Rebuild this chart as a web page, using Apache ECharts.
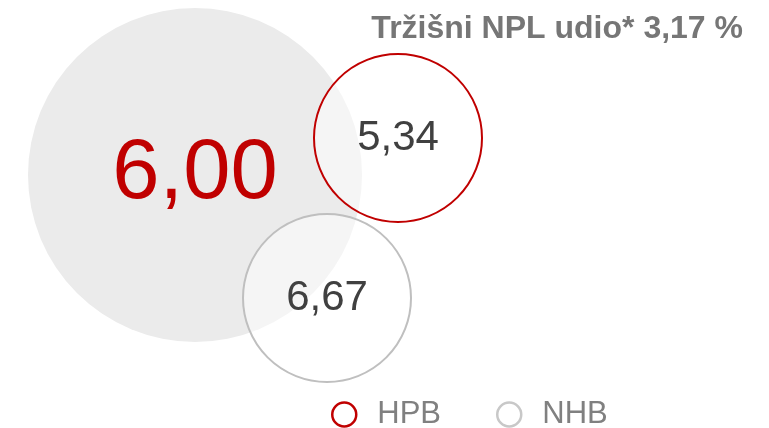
<!DOCTYPE html>
<html>
<head>
<meta charset="utf-8">
<script src="https://cdn.jsdelivr.net/npm/echarts@6/dist/echarts.min.js"></script>
<style>
  html, body { margin: 0; padding: 0; background: #fff; }
  #chart { width: 769px; height: 428px; }
</style>
</head>
<body>
<div id="chart"></div>
<script>
// NPL omjeri (%)
const bubbleNames = ['Tržište', 'HPB', 'NHB']
const bubbleValues = [6.00, 5.34, 6.67]
const titleText = 'Tržišni NPL udio* 3,17 %'

// raspored mjehurića (koordinate na skrivenim osima) i promjeri
const layoutX = [195, 398, 327]
const layoutY = [175, 138, 298]
const diameters = [334, 168, 168]

const FONT = '"Liberation Sans", Arial, sans-serif'
const fmt = v => v.toFixed(2).replace('.', ',')

const chart = echarts.init(document.getElementById('chart'))

chart.setOption({
  animation: false,
  title: {
    text: titleText,
    right: 26,
    top: 13,
    padding: 0,
    textStyle: { fontFamily: FONT, fontSize: 32, fontWeight: 'bold', color: '#767676' }
  },
  legend: {
    left: 331,
    top: 399,
    padding: 0,
    itemWidth: 24,
    itemHeight: 24,
    itemGap: 55,
    icon: 'circle',
    textStyle: { fontFamily: FONT, fontSize: 31, color: '#808080', padding: [0, 0, 0, 16] },
    data: [
      { name: 'HPB', itemStyle: { color: '#fff', borderColor: '#c00000', borderWidth: 2.5 } },
      { name: 'NHB', itemStyle: { color: '#fff', borderColor: '#c8c8c8', borderWidth: 2.5 } }
    ]
  },
  grid: { left: 0, right: 0, top: 0, bottom: 0 },
  xAxis: { type: 'value', min: 0, max: 769, show: false },
  yAxis: { type: 'value', min: 0, max: 428, inverse: true, show: false },
  series: [
    {
      name: bubbleNames[0],
      type: 'scatter',
      z: 1,
      symbol: 'circle',
      symbolSize: diameters[0],
      itemStyle: { color: '#ebebeb', opacity: 1 },
      label: {
        show: true,
        position: 'inside',
        formatter: p => fmt(p.value[2]),
        fontFamily: FONT,
        fontSize: 85,
        color: '#c00000'
      },
      data: [[layoutX[0], layoutY[0], bubbleValues[0]]]
    },
    {
      name: bubbleNames[1],
      type: 'scatter',
      z: 2,
      symbol: 'circle',
      symbolSize: diameters[1],
      itemStyle: { color: 'rgba(255,255,255,0.5)', borderColor: '#c00000', borderWidth: 2, opacity: 1 },
      label: {
        show: true,
        position: 'inside',
        formatter: p => fmt(p.value[2]),
        fontFamily: FONT,
        fontSize: 42,
        color: '#404040'
      },
      data: [[layoutX[1], layoutY[1], bubbleValues[1]]]
    },
    {
      name: bubbleNames[2],
      type: 'scatter',
      z: 3,
      symbol: 'circle',
      symbolSize: diameters[2],
      itemStyle: { color: 'rgba(255,255,255,0.5)', borderColor: '#bfbfbf', borderWidth: 2, opacity: 1 },
      label: {
        show: true,
        position: 'inside',
        formatter: p => fmt(p.value[2]),
        fontFamily: FONT,
        fontSize: 42,
        color: '#404040'
      },
      data: [[layoutX[2], layoutY[2], bubbleValues[2]]]
    }
  ]
})
</script>
</body>
</html>
